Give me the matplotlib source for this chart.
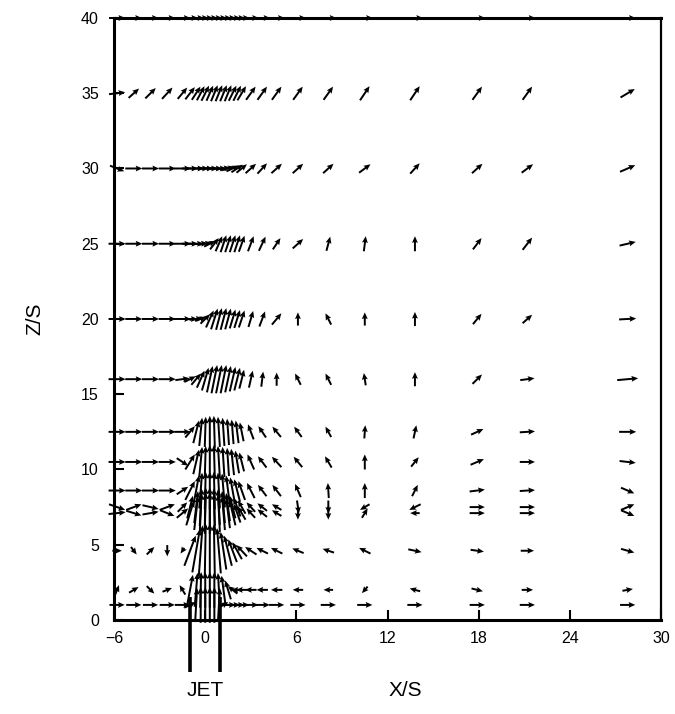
import numpy as np
import matplotlib
matplotlib.use("Agg")
import matplotlib.pyplot as plt

plt.rcParams['font.family'] = ['Liberation Sans', 'DejaVu Sans']

# Measurement stations (X/S) shared by every traverse
X = [-5.8, -4.7, -3.6, -2.5, -1.5, -1.0, -0.6, -0.3, 0.0, 0.3, 0.6, 0.9, 1.2, 1.5,
     1.8, 2.1, 2.4, 3.0, 3.75, 4.7, 6.1, 8.1, 10.5, 13.8, 17.9, 21.2, 27.8]

# Traverse heights (Z/S)
Z = [40, 35, 30, 25, 20, 16, 12.5, 10.5, 8.6, 7.5, 7.1, 4.6, 2.0, 1.0]

# Horizontal (U) and vertical (W) velocity components per traverse
U40 = [0.85] * 27
W40 = [0.0] * 27

U35 = [0.85, 0.55, 0.55, 0.55, 0.5, 0.5, 0.45, 0.4, 0.4, 0.35, 0.35, 0.35, 0.35, 0.35,
       0.4, 0.4, 0.45, 0.5, 0.5, 0.5, 0.5, 0.5, 0.5, 0.5, 0.5, 0.5, 0.75]
W35 = [0.1, 0.5, 0.55, 0.6, 0.6, 0.65, 0.7, 0.75, 0.8, 0.8, 0.85, 0.85, 0.85, 0.85,
       0.8, 0.8, 0.75, 0.7, 0.7, 0.7, 0.7, 0.7, 0.75, 0.75, 0.7, 0.7, 0.45]

U30 = [0.75, 0.9, 0.9, 0.9, 0.9, 0.85, 0.85, 0.85, 0.85, 0.85, 0.85, 0.8, 0.75, 0.7,
       0.65, 0.6, 0.55, 0.55, 0.5, 0.55, 0.55, 0.55, 0.6, 0.5, 0.55, 0.6, 0.8]
W30 = [-0.3, 0, 0, 0, 0, 0, 0, 0, 0, 0, 0, 0, 0.1, 0.2,
       0.3, 0.4, 0.45, 0.5, 0.55, 0.5, 0.5, 0.5, 0.45, 0.55, 0.5, 0.45, 0.35]

U25 = [0.9, 0.9, 0.9, 0.9, 0.9, 0.85, 0.8, 0.75, 0.7, 0.6, 0.45, 0.35, 0.3, 0.3,
       0.3, 0.3, 0.3, 0.3, 0.35, 0.4, 0.55, 0.2, 0.1, 0.0, 0.45, 0.5, 0.85]
W25 = [0, 0, 0, 0, 0, 0, 0, 0.05, 0.1, 0.3, 0.6, 0.8, 0.9, 0.9,
       0.9, 0.9, 0.85, 0.8, 0.75, 0.6, 0.5, 0.75, 0.8, 0.8, 0.6, 0.65, 0.2]

U20 = [0.9, 0.9, 0.9, 0.9, 0.9, 0.8, 0.7, 0.6, 0.5, 0.4, 0.35, 0.3, 0.3, 0.3,
       0.3, 0.3, 0.3, 0.25, 0.3, 0.5, 0.0, -0.3, 0.0, 0.0, 0.45, 0.5, 0.9]
W20 = [0, 0, 0, 0, 0, 0, 0.1, 0.2, 0.5, 0.9, 1.1, 1.15, 1.15, 1.1,
       1.0, 0.95, 0.9, 0.85, 0.8, 0.6, 0.7, 0.6, 0.7, 0.75, 0.55, 0.45, 0.05]

U16 = [0.9, 0.9, 0.9, 0.9, 0.75, 0.6, 0.5, 0.4, 0.35, 0.3, 0.3, 0.3, 0.3, 0.3,
       0.3, 0.3, 0.25, 0.2, 0.1, 0.0, -0.3, -0.3, -0.1, 0.0, 0.5, 0.75, 1.1]
W16 = [0, 0, 0, 0, 0.1, 0.3, 0.6, 0.9, 1.2, 1.4, 1.5, 1.5, 1.5, 1.4,
       1.3, 1.2, 1.0, 0.9, 0.8, 0.7, 0.6, 0.6, 0.65, 0.75, 0.5, 0.1, 0.1]

U12 = [0.9, 0.9, 0.9, 0.9, 0.85, 0.5, 0.3, 0.15, 0.05, 0, -0.05, -0.1, -0.1, -0.1,
       -0.1, -0.15, -0.2, -0.3, -0.4, -0.45, -0.4, -0.3, 0.05, 0.15, 0.65, 0.8, 0.9]
W12 = [0, 0, 0, 0, 0, 0.6, 1.2, 1.5, 1.6, 1.7, 1.7, 1.6, 1.5, 1.4,
       1.3, 1.2, 1.0, 0.8, 0.6, 0.55, 0.55, 0.55, 0.7, 0.7, 0.3, 0.05, 0]

U10 = [0.9, 0.9, 0.9, 0.9, 0.6, 0.5, 0.3, 0.15, 0.05, 0, -0.05, -0.1, -0.1, -0.1,
       -0.15, -0.2, -0.25, -0.35, -0.45, -0.5, -0.45, -0.35, 0.0, 0.4, 0.7, 0.8, 0.85]
W10 = [0, 0, 0, 0, -0.4, 0.8, 1.3, 1.6, 1.7, 1.8, 1.8, 1.7, 1.6, 1.5,
       1.4, 1.2, 1.0, 0.8, 0.6, 0.55, 0.55, 0.6, 0.8, 0.5, 0.3, 0, -0.1]

U86 = [0.9, 0.9, 0.9, 0.9, 0.6, 0.5, 0.3, 0.15, 0.05, 0, -0.05, -0.1, -0.15, -0.2,
       -0.25, -0.3, -0.35, -0.4, -0.45, -0.45, -0.3, -0.05, 0.0, 0.3, 0.8, 0.8, 0.7]
W86 = [0, 0, 0, 0, 0.4, 1.0, 1.6, 1.9, 2.0, 2.0, 2.0, 1.9, 1.8, 1.6,
       1.4, 1.2, 1.0, 0.8, 0.6, 0.6, 0.7, 0.8, 0.8, 0.6, 0.1, 0.05, -0.3]

U75 = [0.85, 0.8, 0.85, 0.8, 0.5, 0.3, 0.2, 0.1, 0.05, 0, -0.05, -0.1, -0.15, -0.2,
       -0.3, -0.35, -0.4, -0.45, -0.5, -0.5, 0.1, 0.0, -0.5, -0.6, 0.8, 0.8, 0.7]
W75 = [-0.3, 0.3, -0.2, 0.3, 0.5, 1.2, 1.7, 2.0, 2.1, 2.1, 2.0, 1.9, 1.7, 1.5,
       1.2, 1.0, 0.7, 0.5, 0.4, 0.3, -0.7, -0.7, -0.3, -0.3, 0, 0, 0.3]

U71 = [0.9, 0.8, 0.85, 0.75, 0.6, 0.4, 0.2, 0.1, 0.05, 0, -0.05, -0.1, -0.15, -0.2,
       -0.3, -0.35, -0.4, -0.45, -0.5, -0.5, 0.0, 0.0, 0.3, -0.5, 0.8, 0.8, 0.7]
W71 = [0.1, -0.25, 0.15, -0.3, 0.5, 1.3, 1.8, 2.1, 2.2, 2.2, 2.1, 2.0, 1.8, 1.6,
       1.3, 1.0, 0.7, 0.5, 0.4, 0.3, -0.7, -0.7, 0.5, 0.0, 0, 0, -0.3]

U46 = [0.5, 0.3, 0.4, 0.0, -0.2, 0.6, 0.4, 0.2, 0.05, 0, -0.05, -0.2, -0.3, -0.4,
       -0.45, -0.5, -0.55, -0.6, -0.6, -0.6, -0.6, -0.6, -0.6, 0.7, 0.7, 0.7, 0.7]
W46 = [0, -0.4, 0.4, -0.6, -0.3, 1.6, 2.3, 2.7, 2.9, 2.9, 2.8, 2.4, 2.0, 1.6,
       1.2, 0.9, 0.6, 0.4, 0.3, 0.3, 0.25, 0.2, 0.3, -0.15, -0.1, 0, -0.2]

U2 = [0.2, 0.5, 0.4, 0.5, -0.3, 0.3, 0.15, 0.05, 0, 0, 0, -0.1, -0.2, -0.3,
      -0.5, -0.6, -0.6, -0.6, -0.6, -0.6, -0.55, -0.5, -0.3, -0.55, 0.6, 0.6, 0.55]
W2 = [0.5, 0.3, -0.4, 0.2, 0.5, 1.6, 1.8, 1.9, 1.9, 1.9, 1.9, 1.8, 1.5, 1.0,
      0.4, 0, 0, 0, 0, 0, 0, 0, -0.35, 0.15, -0.15, 0, 0.1]

U1 = [0.8, 0.8, 0.8, 0.8, 0.8, 0.6, 0.1, 0, 0, 0, 0, 0.1, 0.5, 0.8,
      0.8, 0.8, 0.8, 0.8, 0.8, 0.8, 0.8, 0.8, 0.8, 0.8, 0.8, 0.8, 0.8]
W1 = [0, 0, 0, 0, 0, 0.3, 1.8, 1.9, 1.9, 1.9, 1.9, 1.8, 0.3, 0,
      0, 0, 0, 0, 0, 0, 0, 0, 0, 0, 0, 0, 0]

U_ROWS = [U40, U35, U30, U25, U20, U16, U12, U10, U86, U75, U71, U46, U2, U1]
W_ROWS = [W40, W35, W30, W25, W20, W16, W12, W10, W86, W75, W71, W46, W2, W1]

X_TICKS = [-6, 0, 6, 12, 18, 24, 30]
Z_TICKS = [0, 5, 10, 15, 20, 25, 30, 35, 40]
JET_EDGES = [-1.0, 1.0]

fig = plt.figure(figsize=(6.75, 7.14), dpi=100)
ax = fig.add_axes([0.169, 0.1317, 0.8104, 0.8431])

xx, zz = np.meshgrid(X, Z)
uu = np.array(U_ROWS)
ww = np.array(W_ROWS)

q = ax.quiver(xx, zz, uu, ww, angles='xy', scale_units='xy', scale=0.8,
              pivot='middle', width=0.0036, headwidth=3.0, headlength=3.4,
              headaxislength=3.0, color='black', zorder=3)
q.set_clip_on(False)

# Jet pipe walls
for xe in JET_EDGES:
    ax.plot([xe, xe], [-3.45, 1.5], color='black', lw=2.6, clip_on=False,
            solid_capstyle='butt', zorder=4)

ax.set_xlim(-6, 30)
ax.set_ylim(0, 40)
ax.set_xticks(X_TICKS)
ax.set_xticklabels([str(t).replace('-', '\u2212') for t in X_TICKS])
ax.set_yticks(Z_TICKS)
ax.tick_params(direction='in', length=7, width=1.5, labelsize=11.5, pad=8)
ax.tick_params(axis='y', pad=11)
for side in ['left', 'bottom', 'top']:
    ax.spines[side].set_linewidth(2.2)
ax.spines['right'].set_linewidth(1.6)

ax.set_ylabel('Z/S', fontsize=15, labelpad=26)
fig.text(205 / 675, 1 - 690 / 714, 'JET', fontsize=15, ha='center', va='center')
fig.text(405 / 675, 1 - 690 / 714, 'X/S', fontsize=15, ha='center', va='center')

fig.savefig('out.png', dpi=100)
